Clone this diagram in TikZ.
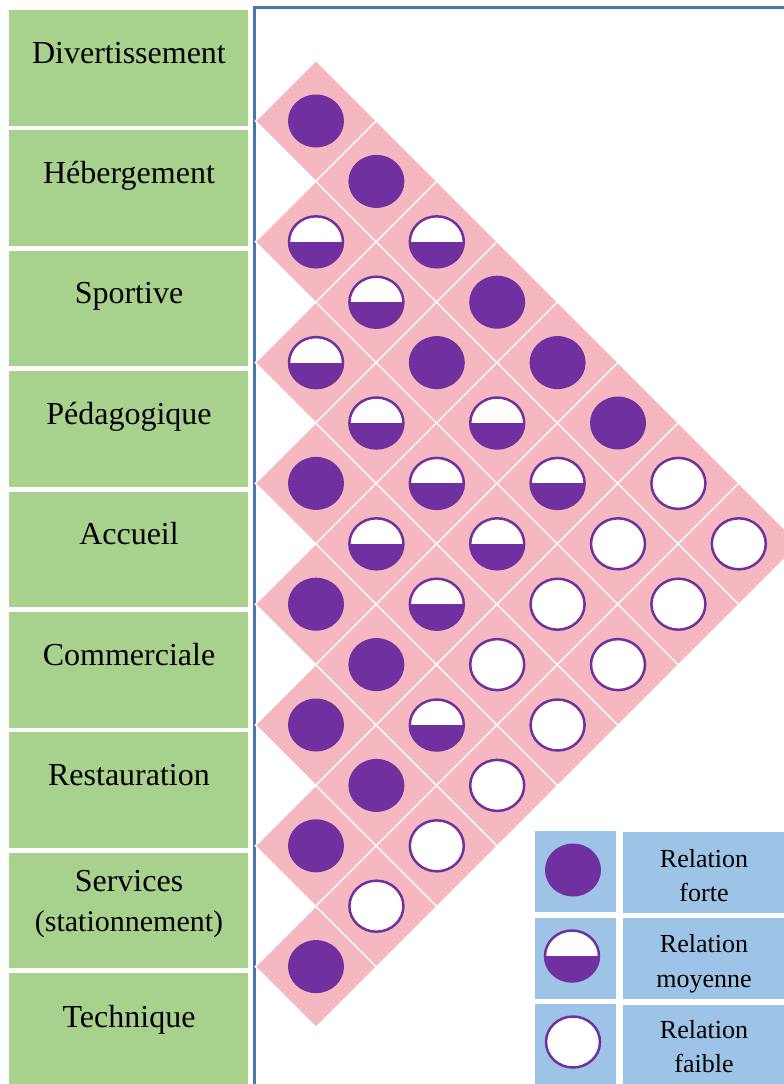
\documentclass[tikz,border=0pt]{standalone}
\usepackage{fontspec}
\setmainfont{Liberation Serif}
\usetikzlibrary{shapes.geometric}

\definecolor{vert}{HTML}{A9D18E}
\definecolor{rose}{HTML}{F5B7C0}
\definecolor{pourpre}{HTML}{7030A0}
\definecolor{bleuleg}{HTML}{9DC3E6}
\definecolor{trait}{HTML}{4A76A8}

\begin{document}
\begin{tikzpicture}[x=1pt, y=-1pt,
    every node/.style={font=\fontsize{32}{38}\selectfont, anchor=base, inner sep=0pt},
    leg/.style={font=\fontsize{26}{32}\selectfont},
    losange/.style={diamond, fill=rose, draw=white, line width=1.4pt,
      minimum width=122pt, minimum height=122pt, anchor=center},
    forte/.style={ellipse, fill=pourpre, minimum width=56pt, minimum height=53pt, anchor=center},
    faible/.style={ellipse, draw=pourpre, line width=2.5pt, fill=white,
      minimum width=54pt, minimum height=51pt, anchor=center},
    moyenne/.style={faible, path picture={\fill[pourpre] (path picture bounding box.west)
      rectangle (path picture bounding box.south east);}}]
  \useasboundingbox (0,0) rectangle (784,1084);
  \clip (0,0) rectangle (784,1084);

  % Colonne des activites
  \fill[vert] (9,10) rectangle (248,125.5);
  \node (divert) at (129,63) {Divertissement};
  \fill[vert] (9,130.4) rectangle (248,245.9);
  \node (heberg) at (129,183.4) {Hébergement};
  \fill[vert] (9,250.8) rectangle (248,366.3);
  \node (sport) at (129,303.8) {Sportive};
  \fill[vert] (9,371.2) rectangle (248,486.7);
  \node (pedago) at (129,424.2) {Pédagogique};
  \fill[vert] (9,491.6) rectangle (248,607.1);
  \node (accueil) at (129,544.6) {Accueil};
  \fill[vert] (9,612) rectangle (248,727.5);
  \node (commerce) at (129,665) {Commerciale};
  \fill[vert] (9,732.4) rectangle (248,847.9);
  \node (resto) at (129,785.4) {Restauration};
  \fill[vert] (9,852.8) rectangle (248,968.3);
  \node (services) at (129,891) {Services};
  \node[font=\fontsize{30}{36}\selectfont] (station) at (129,931) {(stationnement)};
  \fill[vert] (9,973.2) rectangle (248,1084);
  \node (technique) at (129,1027) {Technique};

  % Cadre
  \draw[trait, line width=3pt] (784,7) -- (254,7) -- (254,1084);

  % Matrice des relations
  \foreach \c/\liste in {1/{forte,moyenne,moyenne,forte,forte,forte,forte,forte},
      2/{forte,moyenne,moyenne,moyenne,forte,forte,faible},
      3/{moyenne,forte,moyenne,moyenne,moyenne,faible},
      4/{forte,moyenne,moyenne,faible,faible},
      5/{forte,moyenne,faible,faible},
      6/{forte,faible,faible},
      7/{faible,faible},
      8/{faible}}
    \foreach \rel [count=\j from 0] in \liste {
      \node[losange] (c\c-\j) at ({316+60.4*(\c-1)}, {121+60.4*(\c-1)+120.8*\j}) {};
      \node[\rel] (r\c-\j) at (c\c-\j) {};
    }

  % Legende
  \fill[bleuleg] (535,831) rectangle (616,912);
  \fill[bleuleg] (623,832) rectangle (784,913);
  \node[forte] (lforte) at (573,870) {};
  \node[leg] (tforte1) at (704,867) {Relation};
  \node[leg] (tforte2) at (704,901) {forte};
  \fill[bleuleg] (535,918) rectangle (616,999);
  \fill[bleuleg] (623,918) rectangle (784,999);
  \node[moyenne] (lmoyenne) at (572,956) {};
  \node[leg] (tmoyenne1) at (704,952) {Relation};
  \node[leg] (tmoyenne2) at (704,987) {moyenne};
  \fill[bleuleg] (535,1004) rectangle (616,1084);
  \fill[bleuleg] (623,1005) rectangle (784,1084);
  \node[faible] (lfaible) at (573,1042) {};
  \node[leg] (tfaible1) at (704,1038) {Relation};
  \node[leg] (tfaible2) at (704,1072) {faible};
\end{tikzpicture}
\end{document}
